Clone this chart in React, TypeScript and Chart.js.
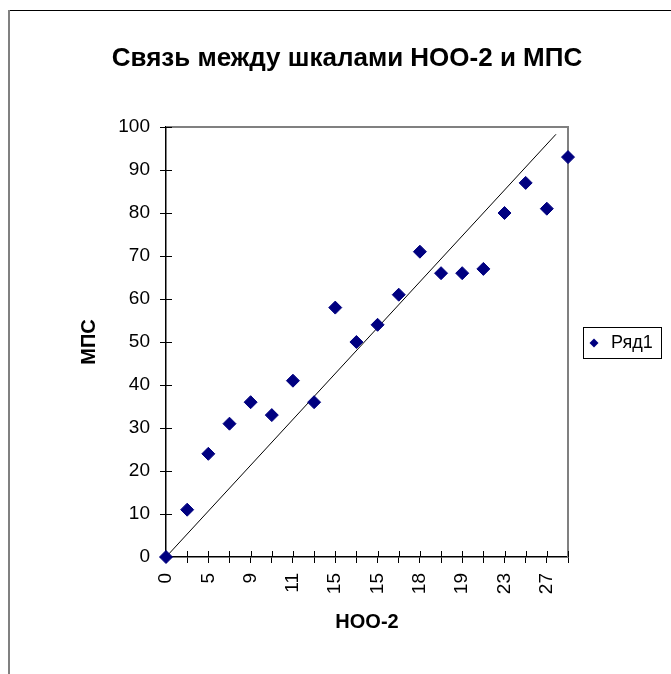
import React, { useEffect, useRef } from 'react';
import { Chart, registerables } from 'chart.js';

Chart.register(...registerables);

// ---- data ----
const categories = ['0', '3', '5', '7', '9', '10', '11', '13', '15', '15', '15', '16', '18', '18', '19', '21', '23', '25', '27', '29'];
const mpsValues = [0, 11, 24, 31, 36, 33, 41, 36, 58, 50, 54, 61, 71, 66, 66, 67, 80, 87, 81, 93];
const trendX = [0, 18.43];
const trendY = [0, 98.3];
const yMin = 0;
const yMax = 100;
const yStep = 10;
const seriesLabel = 'Ряд1';
const chartTitle = 'Связь между шкалами НОО-2 и МПС';
const xTitle = 'НОО-2';
const yTitle = 'МПС';

const FONT = '"Liberation Sans", Arial, sans-serif';

const decorPlugin = {
  id: 'excelDecor',
  beforeDatasetsDraw(chart: any) {
    const ctx = chart.ctx;
    const { left, right, top, bottom } = chart.chartArea;
    ctx.save();
    // plot area top/right border (gray)
    ctx.fillStyle = '#808080';
    ctx.fillRect(left, top - 1, right - left + 1, 2);
    ctx.fillRect(right - 1, top - 1, 2, bottom - top + 1);
    // inner halves of crossing tick marks
    ctx.strokeStyle = '#000';
    ctx.lineWidth = 1;
    const ys = chart.scales.y;
    ys.ticks.forEach((_: any, i: number) => {
      const p = Math.round(ys.getPixelForTick(i)) + 0.5;
      ctx.beginPath();
      ctx.moveTo(left, p);
      ctx.lineTo(left + 6, p);
      ctx.stroke();
    });
    const xs = chart.scales.x;
    xs.ticks.forEach((_: any, i: number) => {
      const p = Math.round(xs.getPixelForTick(i)) + 0.5;
      ctx.beginPath();
      ctx.moveTo(p, bottom);
      ctx.lineTo(p, bottom - 6);
      ctx.stroke();
    });
    ctx.restore();
  },
  afterDraw(chart: any) {
    const ctx = chart.ctx;
    ctx.save();
    // outer frame
    ctx.fillStyle = '#000';
    ctx.fillRect(8, 10, chart.width - 8, 1);
    ctx.fillStyle = '#808080';
    ctx.fillRect(8, 10, 2, chart.height - 10);
    // title
    ctx.fillStyle = '#000';
    ctx.font = 'bold 26px ' + FONT;
    ctx.textAlign = 'center';
    ctx.textBaseline = 'alphabetic';
    ctx.fillText(chartTitle, 347, 66);
    // legend
    const ds = chart.data.datasets[0];
    ctx.strokeStyle = '#000';
    ctx.lineWidth = 1;
    ctx.strokeRect(583.5, 327.5, 78, 31);
    const cx = 594, cy = 343, r = 4.5;
    ctx.fillStyle = ds.pointBackgroundColor;
    ctx.beginPath();
    ctx.moveTo(cx, cy - r);
    ctx.lineTo(cx + r, cy);
    ctx.lineTo(cx, cy + r);
    ctx.lineTo(cx - r, cy);
    ctx.closePath();
    ctx.fill();
    ctx.fillStyle = '#000';
    ctx.font = '18px ' + FONT;
    ctx.textAlign = 'left';
    ctx.textBaseline = 'middle';
    ctx.fillText(ds.label, 611, cy);
    ctx.restore();
  },
};

export default function App() {
  const ref = useRef<HTMLCanvasElement | null>(null);
  useEffect(() => {
    if (!ref.current) return;
    const chart = new Chart(ref.current, {
      type: 'line',
      data: {
        labels: categories,
        datasets: [
          {
            label: seriesLabel,
            data: mpsValues,
            showLine: false,
            pointStyle: 'rectRot',
            pointRadius: 6.5,
            pointBackgroundColor: '#000080',
            pointBorderColor: '#000080',
            pointBorderWidth: 1,
            order: 0,
            clip: false,
          } as any,
          {
            label: 'trend',
            data: trendX.map((x, i) => ({ x, y: trendY[i] })),
            xAxisID: 'xTrend',
            borderColor: '#000',
            borderWidth: 1,
            pointRadius: 0,
            tension: 0,
            fill: false,
            order: 1,
          } as any,
        ],
      },
      options: {
        responsive: false,
        animation: false,
        devicePixelRatio: 1,
        layout: { padding: { top: 127, left: 0, right: 103, bottom: 0 } },
        plugins: {
          legend: { display: false },
          title: { display: false },
          tooltip: { enabled: false },
        },
        scales: {
          x: {
            type: 'category',
            offset: false,
            grid: {
              display: true,
              drawOnChartArea: false,
              drawTicks: true,
              tickLength: 6,
              color: '#000',
              lineWidth: 1,
              offset: false,
            },
            border: { display: true, color: '#000', width: 1.5 },
            ticks: {
              autoSkip: false,
              minRotation: 90,
              maxRotation: 90,
              padding: 10,
              color: '#000',
              font: { family: FONT, size: 19 },
              callback: (_v: any, index: number) => (index % 2 === 0 ? categories[index] : ''),
            },
            title: {
              display: true,
              text: xTitle,
              color: '#000',
              font: { family: FONT, size: 20, weight: 'bold' },
              padding: { top: 0, bottom: 40 },
            },
            afterFit: (scale: any) => {
              scale.height = 117;
            },
          },
          xTrend: {
            type: 'linear',
            display: false,
            min: 0,
            max: categories.length - 1,
          },
          y: {
            type: 'linear',
            min: yMin,
            max: yMax,
            ticks: {
              stepSize: yStep,
              padding: 10,
              color: '#000',
              font: { family: FONT, size: 19 },
            },
            grid: {
              display: true,
              drawOnChartArea: false,
              drawTicks: true,
              tickLength: 6,
              color: '#000',
              lineWidth: 1,
            },
            border: { display: true, color: '#000', width: 1.5 },
            title: {
              display: true,
              text: yTitle,
              color: '#000',
              font: { family: FONT, size: 20, weight: 'bold' },
              padding: { top: 77, bottom: 0 },
            },
            afterFit: (scale: any) => {
              scale.width = 166;
            },
          },
        },
      } as any,
      plugins: [decorPlugin],
    });
    return () => chart.destroy();
  }, []);
  return (
    <div style={{ position: 'absolute', left: 0, top: 0, width: 671, height: 674 }}>
      <canvas ref={ref} width={671} height={674} style={{ display: 'block', width: 671, height: 674 }} />
    </div>
  );
}
